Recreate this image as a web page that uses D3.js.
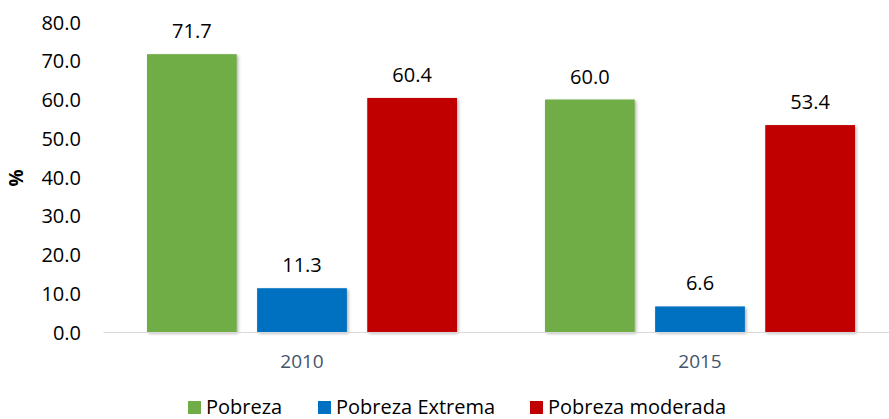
<!DOCTYPE html>
<html lang="es">
<head>
<meta charset="UTF-8">
<script src="https://cdn.jsdelivr.net/npm/d3@7"></script>
<style>
  body { margin: 0; background: #fff; }
  svg, svg text { font-family: "Open Sans", "Liberation Sans", sans-serif; }
</style>
</head>
<body>
<div id="chart"></div>
<script>
const years = ["2010", "2015"];
const seriesNames = ["Pobreza", "Pobreza Extrema", "Pobreza moderada"];
const pobreza = [71.7, 60.0];
const pobrezaExtrema = [11.3, 6.6];
const pobrezaModerada = [60.4, 53.4];
const yTicks = [0, 10, 20, 30, 40, 50, 60, 70, 80];
const colors = ["#70ad47", "#0070c0", "#c00000"];

const w = 889, h = 419;
const svg = d3.select("#chart").append("svg").attr("width", w).attr("height", h);

const defs = svg.append("defs");
const f = defs.append("filter").attr("id", "shadow").attr("x", "-10%").attr("y", "-10%").attr("width", "130%").attr("height", "130%");
f.append("feDropShadow").attr("dx", 1.5).attr("dy", 1.5).attr("stdDeviation", 1.5).attr("flood-color", "#000").attr("flood-opacity", 0.3);

const x0 = d3.scaleBand().domain(years).range([103, 899]).paddingInner(0).paddingOuter(0);
const x1 = d3.scaleBand().domain(seriesNames).range([44, 354]).paddingInner(0.185);
const y = d3.scaleLinear().domain([0, 80]).range([332, 22]);

// y axis labels
const yAxis = d3.axisLeft(y).tickValues(yTicks).tickFormat(d3.format(".1f")).tickSize(0).tickPadding(0);
const gy = svg.append("g").attr("transform", "translate(81,0)").call(yAxis)
  .attr("font-family", null).attr("font-size", null);
gy.select(".domain").remove();
gy.selectAll("text").attr("fill", "#000").style("font-size", "20px").attr("dy", "0.35em");

svg.append("text")
   .attr("transform", "translate(23,178) rotate(-90)")
   .attr("text-anchor", "middle")
   .style("font-size", "19px").style("font-weight", "bold")
   .text("%");

// bars
const data = years.map((yr, i) => ({
  year: yr,
  values: [pobreza[i], pobrezaExtrema[i], pobrezaModerada[i]]
}));

const groups = svg.selectAll(".grp").data(data).enter().append("g")
  .attr("class", "grp")
  .attr("transform", d => "translate(" + x0(d.year) + ",0)");

groups.selectAll("rect")
  .data(d => d.values.map((v, j) => ({ name: seriesNames[j], v: v, c: colors[j] })))
  .enter().append("rect")
  .attr("x", d => x1(d.name))
  .attr("y", d => y(d.v))
  .attr("width", x1.bandwidth())
  .attr("height", d => y(0) - y(d.v))
  .attr("fill", d => d.c)
  .attr("filter", "url(#shadow)");

groups.selectAll(".lbl")
  .data(d => d.values.map((v, j) => ({ name: seriesNames[j], v: v })))
  .enter().append("text")
  .attr("class", "lbl")
  .attr("x", d => x1(d.name) + x1.bandwidth() / 2)
  .attr("y", d => y(d.v) - 16)
  .attr("text-anchor", "middle")
  .style("font-size", "20px")
  .attr("fill", "#000")
  .text(d => d3.format(".1f")(d.v));

// x axis
const xAxis = d3.axisBottom(x0).tickSize(0).tickPadding(23);
const gx = svg.append("g").attr("transform", "translate(0,332)").call(xAxis)
  .attr("font-family", null).attr("font-size", null);
gx.select(".domain").attr("stroke", "#d9d9d9").attr("stroke-width", 1.2);
gx.selectAll("text").attr("fill", "#44546a").style("font-size", "19px");

// legend
const legX = [188, 318, 530];
const leg = svg.selectAll(".leg").data(seriesNames).enter().append("g")
  .attr("class", "leg")
  .attr("transform", (d, i) => "translate(" + legX[i] + ",401)");
leg.append("rect").attr("width", 13).attr("height", 13).attr("fill", (d, i) => colors[i]);
leg.append("text").attr("x", 18).attr("y", 13).style("font-size", "20px").attr("fill", "#000").text(d => d);
</script>
</body>
</html>
